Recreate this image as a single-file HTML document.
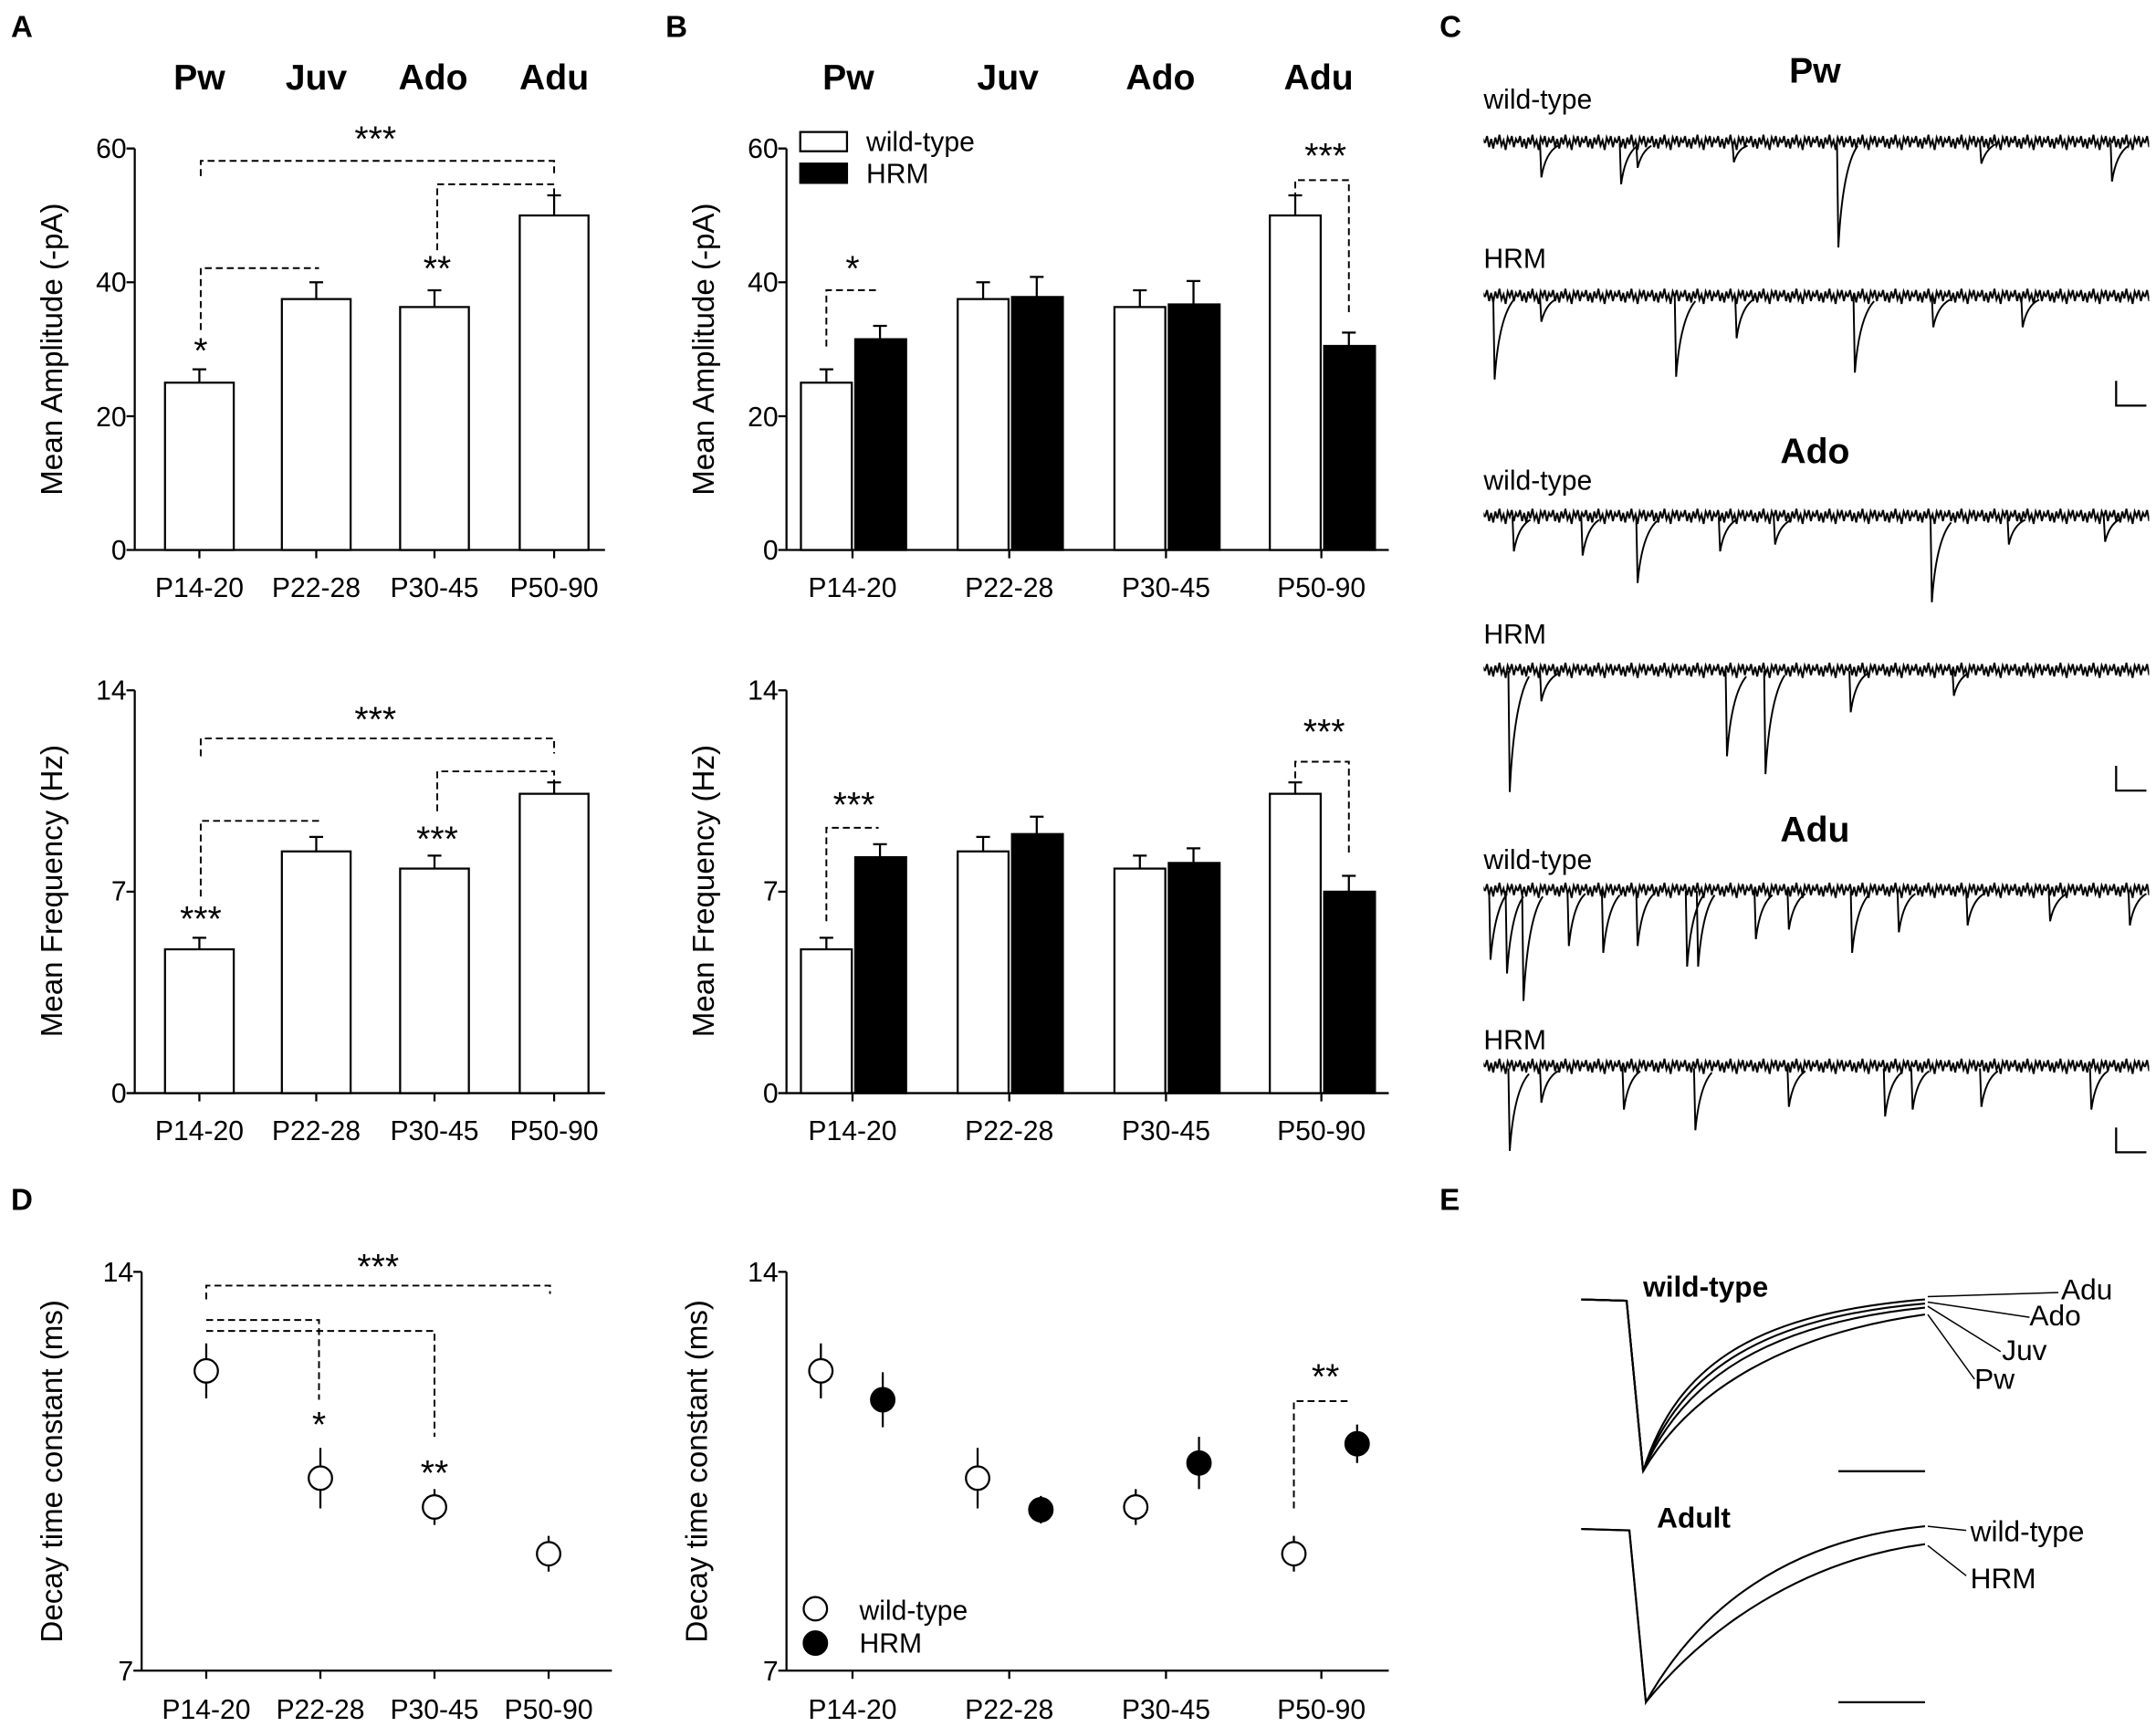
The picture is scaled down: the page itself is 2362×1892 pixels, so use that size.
<!DOCTYPE html>
<html><head><meta charset="utf-8"><style>
html,body{margin:0;padding:0;background:#fff}
svg{display:block;font-family:"Liberation Sans",Arial,sans-serif}
</style></head><body>
<svg width="2362" height="1892" viewBox="0 0 1568 1256" preserveAspectRatio="none" xmlns="http://www.w3.org/2000/svg">
<defs>
<pattern id="nz" width="24" height="16" patternUnits="userSpaceOnUse">
<path d="M0 8L1.5 3L3 11L4.5 5L6 12L7.5 4L9 9L10.5 2L12 10L13.5 6L15 13L16.5 4L18 8L19.5 3L21 11L22.5 5L24 8" stroke="#000" stroke-width="1.3" fill="none"/>
</pattern>
</defs>
<g font-weight="bold" font-size="22">
<text x="8" y="27">A</text><text x="484" y="27">B</text><text x="1047" y="27">C</text>
<text x="8" y="880">D</text><text x="1047" y="880">E</text>
</g>
<g font-weight="bold" font-size="26" text-anchor="middle">
<text x="145" y="65">Pw</text><text x="230" y="65">Juv</text><text x="315" y="65">Ado</text><text x="403" y="65">Adu</text>
<text x="617" y="65">Pw</text><text x="733" y="65">Juv</text><text x="844" y="65">Ado</text><text x="959" y="65">Adu</text>
<text x="1320" y="60">Pw</text><text x="1320" y="337">Ado</text><text x="1320" y="612">Adu</text>
</g>

<g stroke="#000" stroke-width="1.5" fill="#fff">
<path d="M98 108V400H440" fill="none"/>
<path d="M92 108H98M92 302.7H98M92 205.3H98M92 400H98M145 400V406M230 400V406M316 400V406M403 400V406" fill="none"/>
<rect x="120" y="278.3" width="50" height="121.7"/><rect x="205" y="217.5" width="50" height="182.5"/>
<rect x="291" y="223.3" width="50" height="176.7"/><rect x="378" y="156.7" width="50" height="243.3"/>
<path d="M145 278V268.6M140 268.6H150M230 217.5V205.3M225 205.3H235M316 223.3V211.1M311 211.1H321M403 156.7V142.1M398 142.1H408" fill="none"/>
<path d="M98 502V795H440" fill="none"/>
<path d="M92 502H98M92 648.5H98M92 795H98M145 795V801M230 795V801M316 795V801M403 795V801" fill="none"/>
<rect x="120" y="690.4" width="50" height="104.6"/><rect x="205" y="619.2" width="50" height="175.8"/>
<rect x="291" y="631.7" width="50" height="163.3"/><rect x="378" y="577.3" width="50" height="217.7"/>
<path d="M145 690.4V682M140 682H150M230 619.2V608.7M225 608.7H235M316 631.7V622.3M311 622.3H321M403 577.3V569M398 569H408" fill="none"/>
<path d="M572 108V400H1010" fill="none"/>
<path d="M566 108H572M566 302.7H572M566 205.3H572M566 400H572M620 400V406M734 400V406M848 400V406M961 400V406" fill="none"/>
<rect x="582.5" y="278.3" width="37" height="121.7"/><rect x="696.5" y="217.5" width="37" height="182.5"/>
<rect x="810.5" y="223.3" width="37" height="176.7"/><rect x="923.5" y="156.7" width="37" height="243.3"/>
<g fill="#000"><rect x="622" y="246.7" width="37" height="153.3"/><rect x="736" y="216" width="37" height="184"/>
<rect x="850" y="221.4" width="37" height="178.6"/><rect x="963" y="251.6" width="37" height="148.4"/></g>
<path d="M601 278V268.6M596 268.6H606M715 217.5V205.3M710 205.3H720M829 223.3V211.1M824 211.1H834M942 156.7V142.1M937 142.1H947M640 246V237M635 237H645M754 216V201.4M749 201.4H759M868 221V204.4M863 204.4H873M981 251V241.9M976 241.9H986" fill="none"/>
<path d="M572 502V795H1010" fill="none"/>
<path d="M566 502H572M566 648.5H572M566 795H572M620 795V801M734 795V801M848 795V801M961 795V801" fill="none"/>
<rect x="582.5" y="690.4" width="37" height="104.6"/><rect x="696.5" y="619.2" width="37" height="175.8"/>
<rect x="810.5" y="631.7" width="37" height="163.3"/><rect x="923.5" y="577.3" width="37" height="217.7"/>
<g fill="#000"><rect x="622" y="623.4" width="37" height="171.6"/><rect x="736" y="606.6" width="37" height="188.4"/>
<rect x="850" y="627.6" width="37" height="167.4"/><rect x="963" y="648.5" width="37" height="146.5"/></g>
<path d="M601 690V682M596 682H606M715 619V608.7M710 608.7H720M829 631.7V622.3M824 622.3H834M942 577V569M937 569H947M640 623V614M635 614H645M754 606V594M749 594H759M868 627V617M863 617H873M981 648V637M976 637H986" fill="none"/>
<rect x="582" y="96" width="34" height="14"/><rect x="582" y="119" width="34" height="14" fill="#000"/>
<path d="M103 925V1215H445M97 925H103M97 1215H103M150 1215V1221M233 1215V1221M316 1215V1221M399 1215V1221" fill="none"/>
<path d="M572 925V1215H1010M566 925H572M566 1215H572M620 1215V1221M734 1215V1221M848 1215V1221M961 1215V1221" fill="none"/>
<path d="M150 977V1017M233 1053V1097M316 1083V1109M399 1117V1143M597 977V1017M711 1053V1097M826 1083V1109M941 1117V1143M642 998V1038M757 1088V1108M872 1045V1083M987 1036V1064" fill="none"/>
<circle cx="150" cy="997" r="8.5"/><circle cx="233" cy="1075" r="8.5"/><circle cx="316" cy="1096" r="8.5"/><circle cx="399" cy="1130" r="8.5"/>
<circle cx="597" cy="997" r="8.5"/><circle cx="711" cy="1075" r="8.5"/><circle cx="826" cy="1096" r="8.5"/><circle cx="941" cy="1130" r="8.5"/>
<g fill="#000"><circle cx="642" cy="1018" r="8.5"/><circle cx="757" cy="1098" r="8.5"/><circle cx="872" cy="1064" r="8.5"/><circle cx="987" cy="1050" r="8.5"/><circle cx="593" cy="1195" r="8.5"/></g>
<circle cx="593" cy="1170" r="8.5"/>
</g>
<g stroke="#000" stroke-width="1.3" fill="none" stroke-dasharray="5,3">
<path d="M146 128V117H403V128"/><path d="M146 240V195H232"/><path d="M318 182V134H403V145"/>
<path d="M146 550V537H403V548"/><path d="M146 652V597H232"/><path d="M318 590V561H403V570"/>
<path d="M601 252V211H639"/><path d="M942 145V131H981V228"/>
<path d="M601 670V602H639"/><path d="M942 566V554H981V623"/>
<path d="M150 945V935H400V941"/><path d="M150 960H232V1018"/><path d="M150 968H316V1045"/>
<path d="M941 1097V1019H982"/>
</g>
<g font-size="26" text-anchor="middle">
<text x="273" y="110">***</text><text x="146" y="264">*</text><text x="318" y="204">**</text>
<text x="273" y="532">***</text><text x="146" y="677">***</text><text x="318" y="619">***</text>
<text x="620" y="204">*</text><text x="964" y="122">***</text><text x="621" y="594">***</text><text x="963" y="541">***</text>
<text x="275" y="930">***</text><text x="232" y="1045">*</text><text x="316" y="1080">**</text><text x="964" y="1010">**</text>
</g>
<g font-size="20" text-anchor="middle">
<text x="145" y="434">P14-20</text><text x="230" y="434">P22-28</text><text x="316" y="434">P30-45</text><text x="403" y="434">P50-90</text>
<text x="145" y="829">P14-20</text><text x="230" y="829">P22-28</text><text x="316" y="829">P30-45</text><text x="403" y="829">P50-90</text>
<text x="620" y="434">P14-20</text><text x="734" y="434">P22-28</text><text x="848" y="434">P30-45</text><text x="961" y="434">P50-90</text>
<text x="620" y="829">P14-20</text><text x="734" y="829">P22-28</text><text x="848" y="829">P30-45</text><text x="961" y="829">P50-90</text>
<text x="150" y="1250">P14-20</text><text x="233" y="1250">P22-28</text><text x="316" y="1250">P30-45</text><text x="399" y="1250">P50-90</text>
<text x="620" y="1250">P14-20</text><text x="734" y="1250">P22-28</text><text x="848" y="1250">P30-45</text><text x="961" y="1250">P50-90</text>
</g>
<g font-size="20" text-anchor="end">
<text x="92" y="115">60</text><text x="92" y="310">20</text><text x="92" y="212">40</text><text x="92" y="407">0</text>
<text x="92" y="509">14</text><text x="92" y="655">7</text><text x="92" y="802">0</text>
<text x="566" y="115">60</text><text x="566" y="310">20</text><text x="566" y="212">40</text><text x="566" y="407">0</text>
<text x="566" y="509">14</text><text x="566" y="655">7</text><text x="566" y="802">0</text>
<text x="97" y="932">14</text><text x="97" y="1222">7</text><text x="566" y="932">14</text><text x="566" y="1222">7</text>
</g>
<g font-size="22" text-anchor="middle">
<text transform="translate(45,254) rotate(-90)">Mean Amplitude (-pA)</text>
<text transform="translate(45,648) rotate(-90)">Mean Frequency (Hz)</text>
<text transform="translate(519,254) rotate(-90)">Mean Amplitude (-pA)</text>
<text transform="translate(519,648) rotate(-90)">Mean Frequency (Hz)</text>
<text transform="translate(45,1070) rotate(-90)">Decay time constant (ms)</text>
<text transform="translate(514,1070) rotate(-90)">Decay time constant (ms)</text>
</g>
<g font-size="20">
<text x="630" y="110">wild-type</text><text x="630" y="133">HRM</text>
<text x="625" y="1178">wild-type</text><text x="625" y="1202">HRM</text>
<text x="1079" y="79">wild-type</text><text x="1079" y="195">HRM</text>
<text x="1079" y="356">wild-type</text><text x="1079" y="468">HRM</text>
<text x="1079" y="632">wild-type</text><text x="1079" y="763">HRM</text>
</g>
<g fill="url(#nz)">
<rect x="1079" y="96" width="484" height="16"/>
<rect x="1079" y="208" width="484" height="16"/>
<rect x="1079" y="368" width="484" height="16"/>
<rect x="1079" y="480" width="484" height="16"/>
<rect x="1079" y="640" width="484" height="16"/>
<rect x="1079" y="768" width="484" height="16"/>
</g>
<g stroke="#000" stroke-width="1.3" fill="none">
<g transform="translate(0,4)"><path d="M1120 100l1 25q3 -18 12 -23M1178 100l1 30q3 -22 12 -28M1190 100l1 18q3 -12 10 -16M1336 100l1 76q3 -58 14 -74M1440 100l1 15q3 -10 10 -14M1535 100l1 28q3 -20 12 -26M1260 100l1 14q3 -10 10 -12"/></g>
<g transform="translate(0,1)"><path d="M1086 215l1 60q3 -45 14 -58M1218 215l1 58q3 -42 14 -55M1262 215l1 30q3 -22 12 -28M1348 215l1 55q3 -40 14 -52M1405 215l1 22q3 -15 12 -20M1470 215l1 22q3 -16 12 -20M1120 215l1 18q3 -12 10 -16"/></g>
<path d="M1100 376l1 25q3 -18 12 -23M1150 376l1 28q3 -20 12 -26M1190 376l1 48q3 -35 14 -45M1250 376l1 25q3 -18 12 -23M1290 376l1 20q3 -14 12 -18M1404 376l1 62q3 -45 14 -58M1460 376l1 20q3 -14 12 -18M1530 376l1 18q3 -12 10 -16"/>
<path d="M1097 488l1 88q3 -65 14 -84M1120 488l1 22q3 -15 12 -20M1255 488l1 62q3 -45 14 -58M1283 488l1 75q3 -55 14 -72M1345 488l1 30q3 -22 12 -28M1420 488l1 18q3 -12 10 -16"/>
<g transform="translate(0,-4)"><path d="M1083 652l1 50q3 -36 12 -48M1095 652l1 60q3 -44 12 -56M1107 652l1 80q3 -60 14 -76M1140 652l1 40q3 -30 12 -38M1165 652l1 45q3 -32 12 -42M1190 652l1 40q3 -30 12 -38M1226 652l1 55q3 -40 12 -52M1234 652l1 55q3 -40 12 -52M1276 652l1 35q3 -25 12 -32M1300 652l1 28q3 -20 12 -26M1346 652l1 45q3 -32 12 -42M1380 652l1 30q3 -22 12 -28M1430 652l1 25q3 -18 12 -23M1490 652l1 22q3 -15 12 -20M1548 652l1 25q3 -18 12 -23"/></g>
<path d="M1097 777l1 60q3 -44 14 -56M1120 777l1 25q3 -18 12 -23M1180 777l1 30q3 -22 12 -28M1232 777l1 45q3 -32 12 -42M1300 777l1 28q3 -20 12 -26M1370 777l1 35q3 -25 12 -32M1390 777l1 30q3 -22 12 -28M1440 777l1 28q3 -20 12 -26M1520 777l1 30q3 -22 12 -28"/>
</g>
<g stroke="#000" fill="none" stroke-width="1.5">
<path d="M1539 277V295H1561"/><path d="M1539 557V575H1561"/><path d="M1539 820V838H1561"/>
<path d="M1337 1070H1400"/><path d="M1337 1238H1400"/>
</g>
<g stroke="#000" fill="none" stroke-width="1.4">
<path d="M1150 945L1183 946L1195 1070C1230 1010 1300 970 1400 956"/>
<path d="M1150 945L1183 946L1195 1070C1225 1000 1290 962 1400 951"/>
<path d="M1150 945L1183 946L1195 1070C1222 995 1285 958 1400 948"/>
<path d="M1150 945L1183 946L1195 1070C1220 990 1280 955 1400 945"/>
<path d="M1150 1112L1185 1113L1197 1238C1235 1170 1300 1120 1400 1110"/>
<path d="M1150 1112L1185 1113L1197 1238C1240 1185 1310 1135 1400 1123"/>
</g>
<g stroke="#000" stroke-width="1">
<line x1="1402" y1="943" x2="1497" y2="940"/><line x1="1402" y1="947" x2="1476" y2="958"/>
<line x1="1402" y1="950" x2="1455" y2="983"/><line x1="1402" y1="956" x2="1436" y2="1003"/>
<line x1="1402" y1="1110" x2="1430" y2="1113"/><line x1="1402" y1="1124" x2="1430" y2="1146"/>
</g>
<g font-size="21">
<text x="1195" y="943" font-weight="bold">wild-type</text>
<text x="1205" y="1111" font-weight="bold">Adult</text>
<text x="1499" y="945">Adu</text><text x="1476" y="964">Ado</text><text x="1456" y="989">Juv</text><text x="1436" y="1010">Pw</text>
<text x="1433" y="1121">wild-type</text><text x="1433" y="1155">HRM</text>
</g>
</svg>
</body></html>
